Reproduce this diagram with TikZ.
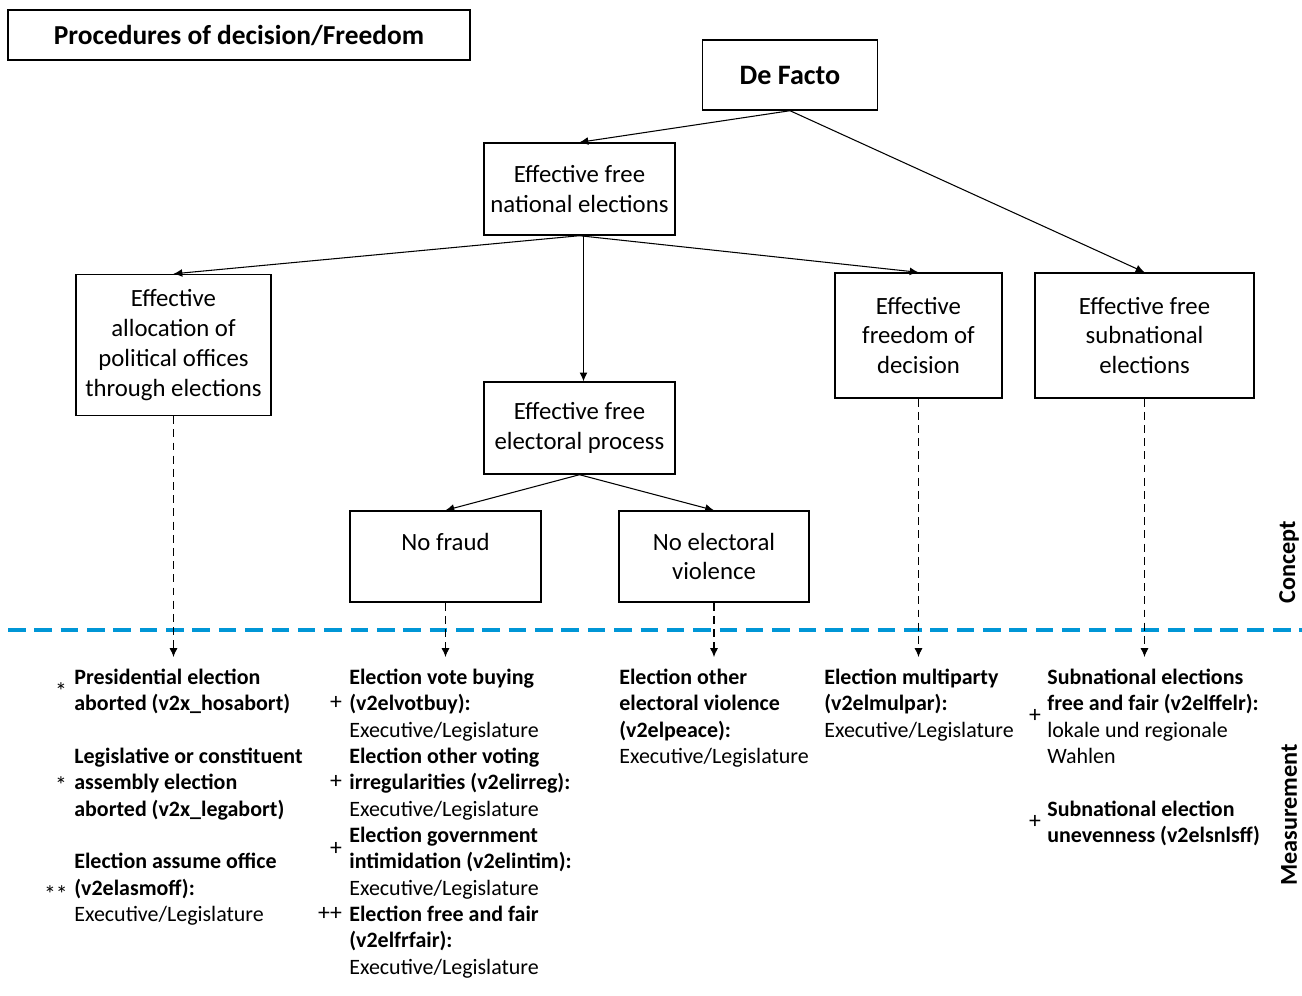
\documentclass[tikz,border=0pt]{standalone}
\usepackage{fontspec}
\setmainfont{Carlito}
\usetikzlibrary{positioning,arrows.meta}
\definecolor{lineblue}{RGB}{0,150,214}

\begin{document}
\begin{tikzpicture}[x=0.02cm,y=-0.02cm,
    box/.style={draw, line width=0.8pt, align=center, inner sep=0pt,
      font=\fontsize{14.1}{17}\selectfont},
    conn/.style={line width=0.6pt, -{Latex[length=5pt,width=4.5pt]}},
    dconn/.style={conn, dash pattern=on 4.5pt off 3pt},
    meas/.style={anchor=north west, align=left, inner sep=0pt,
      font=\fontsize{12.5}{15}\selectfont},
    sign/.style={inner sep=0pt, font=\fontsize{13.5}{15}\selectfont},
    side/.style={rotate=90, inner sep=0pt, font=\fontsize{13.8}{15}\selectfont\bfseries}]
  \useasboundingbox (0,0) rectangle (1302,995);

  % concept part
  \node[box, line width=1.1pt, minimum width=9.24cm, minimum height=1cm, font=\fontsize{15.6}{18}\selectfont\bfseries] (title) at (239,35) {Procedures of decision/Freedom};
  \node[box, minimum width=3.5cm, minimum height=1.4cm, font=\fontsize{16}{18}\selectfont\bfseries] (defacto) at (790,75) {De Facto};
  \node[box, minimum width=3.82cm, minimum height=1.84cm] (national) at (579.5,189) {Effective free\\national elections};
  \node[box, minimum width=3.9cm, minimum height=2.82cm] (alloc) at (173.5,345) {Effective\\allocation of\\political offices\\through elections};
  \node[box, minimum width=3.34cm, minimum height=2.5cm] (freedom) at (918.5,335.5) {Effective\\freedom of\\decision};
  \node[box, minimum width=4.38cm, minimum height=2.5cm] (subnat) at (1144.5,335.5) {Effective free\\subnational\\elections};
  \node[box, minimum width=3.82cm, minimum height=1.84cm] (process) at (579.5,428) {Effective free\\electoral process};
  \node[box, minimum width=3.82cm, minimum height=1.82cm] (nofraud) at (445.5,556.5) {No fraud\\\mbox{}};
  \node[box, minimum width=3.8cm, minimum height=1.82cm] (noviol) at (714,556.5) {No electoral\\violence};

  \draw[conn] (defacto.south) -- (national.north);
  \draw[conn] (defacto.south) -- (subnat.north);
  \draw[conn] (national.south) -- (alloc.north);
  \draw[conn] ([xshift=0.08cm]national.south) -- ([xshift=0.08cm]process.north);
  \draw[conn] (national.south) -- (freedom.north);
  \draw[conn] (process.south) -- (nofraud.north);
  \draw[conn] (process.south) -- (noviol.north);

  % border concept / measurement
  \coordinate (lineL) at (8,630);
  \coordinate (lineR) at (1302,630);
  \draw[lineblue, line width=2.8pt, dash pattern=on 10pt off 5pt] (lineL) -- (lineR);
  \node[side] (concept) at (1289,562) {Concept};
  \node[side] (measure) at (1289,815) {Measurement};

  \coordinate (m1) at (173.5,657);
  \coordinate (m2) at (445.5,657);
  \coordinate (m3) at (714,657);
  \coordinate (m4) at (918.5,657);
  \coordinate (m5) at (1144.5,657);
  \draw[dconn] (alloc.south) -- (m1);
  \draw[dconn] (nofraud.south) -- (m2);
  \draw[dconn] (noviol.south) -- (m3);
  \draw[dconn] (freedom.south) -- (m4);
  \draw[dconn] (subnat.south) -- (m5);

  % measurement part
  \node[meas] (col1) at (74,665.5) {\strut\textbf{Presidential election}\\\textbf{aborted (v2x\_hosabort)}\\\mbox{}\\
    \textbf{Legislative or constituent}\\\textbf{assembly election}\\\textbf{aborted (v2x\_legabort)}\\\mbox{}\\
    \textbf{Election assume office}\\\textbf{(v2elasmoff):}\\Executive/Legislature};
  \node[meas] (col2) at (349,665.5) {\strut\textbf{Election vote buying}\\\textbf{(v2elvotbuy):}\\Executive/Legislature\\
    \textbf{Election other voting}\\\textbf{irregularities (v2elirreg):}\\Executive/Legislature\\
    \textbf{Election government}\\\textbf{intimidation (v2elintim):}\\Executive/Legislature\\
    \textbf{Election free and fair}\\\textbf{(v2elfrfair):}\\Executive/Legislature};
  \node[meas] (col3) at (619,665.5) {\strut\textbf{Election other}\\\textbf{electoral violence}\\\textbf{(v2elpeace):}\\Executive/Legislature};
  \node[meas] (col4) at (824,665.5) {\strut\textbf{Election multiparty}\\\textbf{(v2elmulpar):}\\Executive/Legislature};
  \node[meas] (col5) at (1047,665.5) {\strut\textbf{Subnational elections}\\\textbf{free and fair (v2elffelr):}\\lokale und regionale\\Wahlen\\\mbox{}\\
    \textbf{Subnational election}\\\textbf{unevenness (v2elsnlsff)}};

  \node[sign] (s1) at (61,691) {*};
  \node[sign] (s2) at (61,785) {*};
  \node[sign] (s3) at (56,894) {**};
  \node[sign] (p1) at (336,703) {+};
  \node[sign] (p2) at (336,782) {+};
  \node[sign] (p3) at (336,849) {+};
  \node[sign] (p4) at (330,914) {++};
  \node[sign] (p5) at (1035,716) {+};
  \node[sign] (p6) at (1035,822) {+};
\end{tikzpicture}
\end{document}
